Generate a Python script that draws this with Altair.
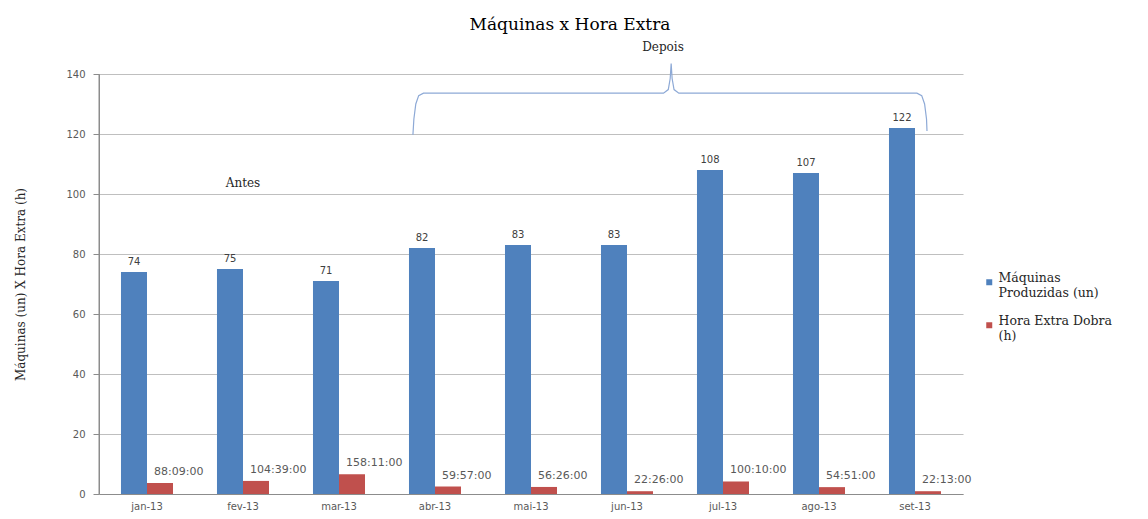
import altair as alt
import pandas as pd

# ---- data ----
months = ["jan-13", "fev-13", "mar-13", "abr-13", "mai-13", "jun-13", "jul-13", "ago-13", "set-13"]
maquinas = [74, 75, 71, 82, 83, 83, 108, 107, 122]
# overtime stored as fraction of a day (Excel time), labels as shown
hora_extra = [3.67, 4.36, 6.59, 2.50, 2.35, 0.93, 4.17, 2.29, 0.93]
hora_extra_labels = ["88:09:00", "104:39:00", "158:11:00", "59:57:00", "56:26:00",
                     "22:26:00", "100:10:00", "54:51:00", "22:13:00"]
series = ["Máquinas Produzidas (un)", "Hora Extra Dobra (h)"]
colors = ["#4F81BD", "#C0504D"]
y_ticks = [0, 20, 40, 60, 80, 100, 120, 140]

# brace annotation ("Depois"), x in category units (0..9), y in data units
brace_x = [3.27, 3.28, 3.30, 3.33, 3.38, 5.88, 5.93, 5.95, 5.96, 5.97, 5.99, 6.04, 8.52, 8.57, 8.60, 8.62, 8.625]
brace_y = [119.7, 125.0, 130.0, 132.8, 133.6, 133.6, 134.8, 138.5, 143.5, 138.5, 134.8, 133.6, 133.6, 132.8, 130.0, 125.0, 121.0]
note_text = ["Antes", "Depois"]
note_x = [1.5, 5.875]
note_y = [103.7, 149.0]

rows = []
for i, m in enumerate(months):
    rows.append({"month": m, "series": series[0], "value": maquinas[i], "label": str(maquinas[i])})
    rows.append({"month": m, "series": series[1], "value": hora_extra[i], "label": hora_extra_labels[i]})
df = pd.DataFrame(rows)

brace_df = pd.DataFrame({"bx": brace_x, "value": brace_y, "i": list(range(len(brace_x)))})
note_df = pd.DataFrame({"nx": note_x, "value": note_y, "t": note_text})

y_scale = alt.Scale(domain=[0, 140], nice=False)
band_scale = alt.Scale(domain=months, paddingInner=0.458, paddingOuter=0.229)
lin_scale = alt.Scale(domain=[0, 9], nice=False, zero=False)
xo_enc = alt.XOffset("series:N", sort=series, scale=alt.Scale(domain=series))

bars = alt.Chart(df).mark_bar().encode(
    x=alt.X("month:N", sort=months, scale=band_scale,
            axis=alt.Axis(title=None, labelAngle=0, ticks=False, labelPadding=7,
                          labelFont="DejaVu Sans", labelFontSize=10, labelColor="#595959",
                          domain=True, domainColor="#8C8C8C", grid=False)),
    xOffset=xo_enc,
    y=alt.Y("value:Q", scale=y_scale,
            axis=alt.Axis(values=y_ticks, title="Máquinas (un) X Hora Extra (h)",
                          titleFont="DejaVu Serif", titleFontSize=12, titleFontWeight="normal",
                          titleColor="#262626", titleX=-79, titleY=210, titleAngle=270,
                          titleAlign="center", titleBaseline="middle",
                          labelFont="DejaVu Sans", labelFontSize=10, labelColor="#595959",
                          labelPadding=8, tickSize=6, tickColor="#8C8C8C",
                          domain=True, domainColor="#8C8C8C", domainWidth=1,
                          grid=True, gridColor="#BFBFBF")),
    color=alt.Color("series:N", sort=series,
                    scale=alt.Scale(domain=series, range=colors),
                    legend=alt.Legend(title=None, orient="none", legendX=884, legendY=202,
                                      symbolType="square", symbolSize=36, symbolStrokeWidth=0,
                                      labelFont="DejaVu Serif", labelFontSize=12.5, labelOffset=3,
                                      labelColor="#262626", labelLimit=300, rowPadding=15,
                                      labelBaseline="alphabetic",
                                      labelExpr="datum.label == 'Máquinas Produzidas (un)' ? ['Máquinas', 'Produzidas (un)'] : ['Hora Extra Dobra', '(h)']")),
)

# vertical axis line (value axis) drawn along the left edge of the plot
axis_line = alt.Chart(pd.DataFrame({"lo": [0], "hi": [140]})).mark_rule(
    color="#8C8C8C", strokeWidth=1
).encode(
    x=alt.value(0),
    y=alt.Y("lo:Q", scale=y_scale, axis=None),
    y2="hi:Q",
)

blue_text = alt.Chart(df).transform_filter(
    alt.datum.series == series[0]
).mark_text(font="DejaVu Sans", fontSize=10, color="#404040", baseline="middle", dy=-10).encode(
    x=alt.X("month:N", sort=months, scale=band_scale, axis=None),
    xOffset=xo_enc,
    y=alt.Y("value:Q", scale=y_scale, axis=None),
    text="label:N",
)

red_text = alt.Chart(df).transform_filter(
    alt.datum.series == series[1]
).mark_text(font="DejaVu Sans", fontSize=11, color="#595959", baseline="middle",
            align="left", dx=-6, dy=-11).encode(
    x=alt.X("month:N", sort=months, scale=band_scale, axis=None),
    xOffset=xo_enc,
    y=alt.Y("value:Q", scale=y_scale, axis=None),
    text="label:N",
)

brace = alt.Chart(brace_df).mark_line(color="#8DA9D6", strokeWidth=1.2).encode(
    x=alt.X("bx:Q", scale=lin_scale, axis=None),
    y=alt.Y("value:Q", scale=y_scale, axis=None),
    order="i:Q",
)

notes = alt.Chart(note_df).mark_text(font="DejaVu Serif", fontSize=12, color="#262626",
                                     baseline="middle").encode(
    x=alt.X("nx:Q", scale=lin_scale, axis=None),
    y=alt.Y("value:Q", scale=y_scale, axis=None),
    text="t:N",
)

chart = alt.layer(bars, axis_line, blue_text, red_text, brace, notes).resolve_scale(
    x="independent"
).resolve_axis(x="independent", y="independent").properties(
    width=864,
    height=420,
    autosize=alt.AutoSizeParams(type="none"),
    padding={"left": 99, "top": 74, "right": 185, "bottom": 25},
    background="white",
    title=alt.Title("Máquinas x Hora Extra", font="DejaVu Serif", fontSize=17,
                    fontWeight="normal", color="#000000", anchor="middle", dx=39, offset=7),
).configure_view(stroke=None)

chart.save("out.html", embed_options={"renderer": "svg", "actions": False})
